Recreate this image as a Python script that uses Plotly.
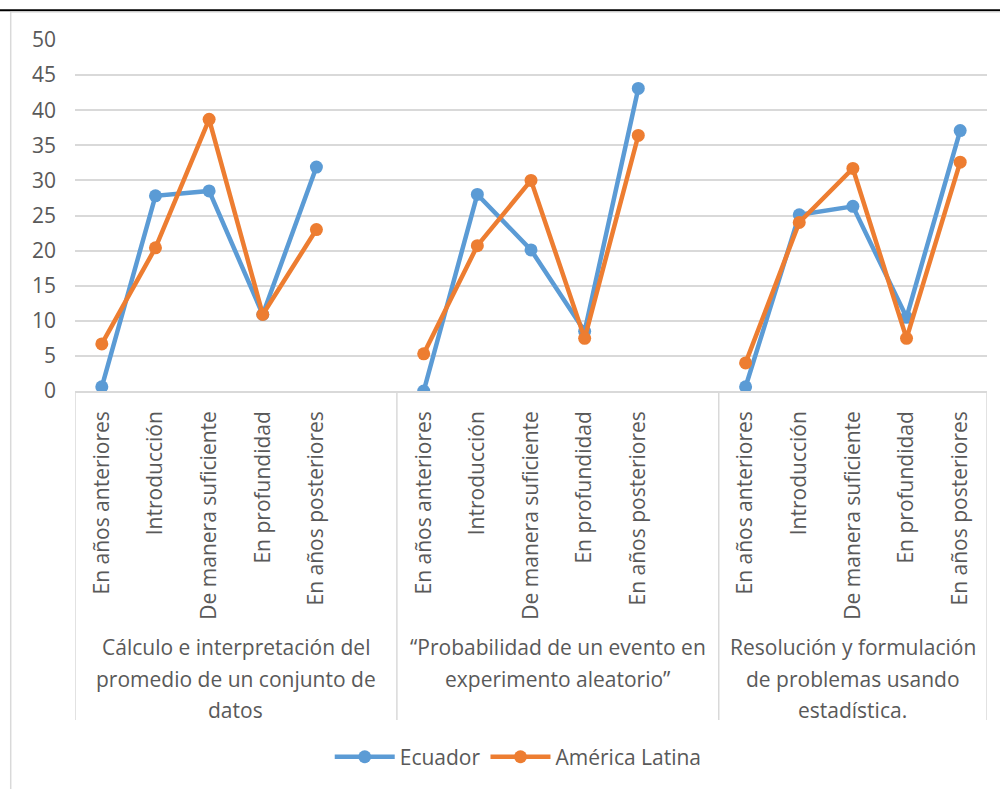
import plotly.graph_objects as go

# Sub-topic labels shown under each point (repeated for every topic group)
subtopics = ["En años anteriores", "Introducción", "De manera suficiente",
             "En profundidad", "En años posteriores"]

# Topic group labels, one entry per text line
group_lines = [
    ["Cálculo e interpretación del", "promedio de un conjunto de", "datos"],
    ["“Probabilidad de un evento en", "experimento aleatorio”"],
    ["Resolución y formulación", "de problemas usando", "estadística."],
]

# Percentages per topic group
ecuador = [
    [0.6, 27.8, 28.5, 10.9, 31.9],
    [0.0, 28.0, 20.1, 8.5, 43.1],
    [0.6, 25.1, 26.3, 10.5, 37.1],
]
america_latina = [
    [6.7, 20.4, 38.7, 10.9, 23.0],
    [5.3, 20.7, 30.0, 7.5, 36.4],
    [4.0, 24.0, 31.7, 7.5, 32.6],
]

series_names = ["Ecuador", "América Latina"]
series_colors = ["#5B9BD5", "#ED7D31"]

n = len(subtopics)
step = n + 1  # one empty slot between topic groups


def flatten(groups):
    xs, ys = [], []
    for g, vals in enumerate(groups):
        for i, v in enumerate(vals):
            xs.append(g * step + i)
            ys.append(v)
        if g < len(groups) - 1:
            xs.append(g * step + n)
            ys.append(None)
    return xs, ys


FONT = "Open Sans"
FS = 21
TXT = "#595959"
GRID = "#D9D9D9"

fig = go.Figure()
for name, color, data in zip(series_names, series_colors, [ecuador, america_latina]):
    xs, ys = flatten(data)
    fig.add_trace(go.Scatter(
        x=xs, y=ys, name=name, mode="lines+markers",
        line=dict(color=color, width=4.5),
        marker=dict(color=color, size=13),
        connectgaps=False,
    ))

tickvals = [g * step + i for g in range(len(group_lines)) for i in range(n)]
ticktext = subtopics * len(group_lines)

last = (len(group_lines) - 1) * step + n - 1
bounds = [g * step - 0.5 for g in range(len(group_lines))] + [last + 0.5]

shapes = []
# group dividers below the category axis
for b in bounds:
    shapes.append(dict(type="line", xref="x", yref="paper", x0=b, x1=b,
                       y0=0, y1=-0.937, line=dict(color=GRID, width=1.5)))

# chart frame: black rule across the top, light border on the left
shapes.append(dict(type="line", xref="paper", yref="paper",
                   x0=-0.09, x1=1.02, y0=1.085, y1=1.085,
                   line=dict(color="#000000", width=2)))
shapes.append(dict(type="line", xref="paper", yref="paper",
                   x0=-0.0705, x1=1.02, y0=1.0795, y1=1.0795,
                   line=dict(color=GRID, width=1)))
shapes.append(dict(type="line", xref="paper", yref="paper",
                   x0=-0.0705, x1=-0.0705, y0=1.0795, y1=-1.15,
                   line=dict(color=GRID, width=1.5)))

annotations = []
line_y = [-0.729, -0.820, -0.909]
for g, lines in enumerate(group_lines):
    center = (bounds[g] + bounds[g + 1]) / 2
    for k, txt in enumerate(lines):
        annotations.append(dict(
            x=center, y=line_y[k], xref="x", yref="paper",
            text=txt, showarrow=False, xanchor="center", yanchor="middle",
            font=dict(family=FONT, size=FS, color=TXT),
        ))

fig.update_layout(
    width=1000, height=789,
    margin=dict(l=75, r=13, t=40, b=398),
    paper_bgcolor="white", plot_bgcolor="white",
    font=dict(family=FONT, size=FS, color=TXT),
    shapes=shapes,
    annotations=annotations,
    showlegend=True,
    legend=dict(orientation="h", x=0.486, y=-1.043, xanchor="center",
                yanchor="middle", font=dict(family=FONT, size=FS, color=TXT),
                itemwidth=60, tracegroupgap=0),
    hovermode=False,
)

fig.update_xaxes(
    range=[-0.5, last + 0.5],
    tickmode="array", tickvals=tickvals, ticktext=ticktext,
    tickangle=-90, tickfont=dict(family=FONT, size=FS, color=TXT),
    showgrid=False, zeroline=False,
    showline=True, linecolor=GRID, linewidth=1.5,
    ticks="", ticklabelstandoff=10,
)
fig.update_yaxes(
    range=[0, 50], tickmode="array", tickvals=list(range(0, 51, 5)),
    showgrid=True, gridcolor=GRID, gridwidth=1.5,
    zeroline=False, showline=False, ticks="",
    tickfont=dict(family=FONT, size=FS, color=TXT),
    ticklabelstandoff=18,
)

fig.write_html("out.html")
